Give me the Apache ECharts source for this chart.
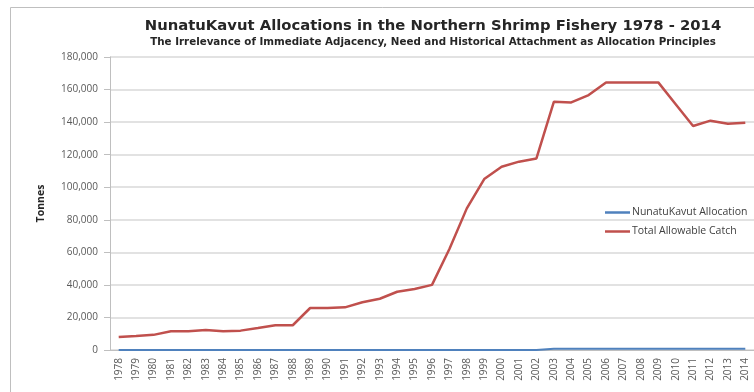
<!DOCTYPE html>
<html><head><meta charset="utf-8">
<script src="https://cdn.jsdelivr.net/npm/echarts@6/dist/echarts.min.js"></script>
<style>html,body{margin:0;padding:0;background:#fff}#c{width:754px;height:392px}</style>
</head><body><div id="c"></div>
<script>
const years = ['1978','1979','1980','1981','1982','1983','1984','1985','1986','1987','1988','1989','1990','1991','1992','1993','1994','1995','1996','1997','1998','1999','2000','2001','2002','2003','2004','2005','2006','2007','2008','2009','2010','2011','2012','2013','2014'];
const nunatukavut = [0,0,0,0,0,0,0,0,0,0,0,0,0,0,0,0,0,0,0,0,0,0,0,0,0,800,800,800,800,800,800,800,800,800,800,800,800];
const tac = [8000,8600,9300,11500,11500,12300,11500,11900,13500,15200,15200,25800,25800,26200,29300,31500,35800,37500,40000,62000,87000,105000,112600,115700,117700,152500,152100,156600,164400,164400,164400,164400,151000,137600,140900,139000,139600];
const yTicks = [0,20000,40000,60000,80000,100000,120000,140000,160000,180000];
const titleText = 'NunatuKavut Allocations in the Northern Shrimp Fishery 1978 - 2014';
const subtitleText = 'The Irrelevance of Immediate Adjacency, Need and Historical Attachment as Allocation Principles';

const chart = echarts.init(document.getElementById('c'), null, {renderer:'canvas'});
const font = '"Open Sans", "Noto Sans", sans-serif';
const tfont = '"DejaVu Sans", sans-serif';
chart.setOption({
  animation:false,
  textStyle:{fontFamily:font},
  graphic:[{type:'rect',shape:{x:10.5,y:7.5,width:800,height:420},style:{fill:null,stroke:'#bfbfbf',lineWidth:1}, z:-1}],
  title:{
    text:titleText, subtext:subtitleText, left:428, textAlign:'center', top:14,
    itemGap:3,
    textStyle:{fontFamily:tfont,fontSize:14.8,fontWeight:'bold',color:'#262626'},
    subtextStyle:{fontFamily:tfont,fontSize:10.3,fontWeight:'bold',color:'#262626'}
  },
  legend:{
    orient:'vertical', left:600, top:202, itemWidth:25, itemHeight:2.5, itemGap:8,
    icon:'rect',
    textStyle:{fontFamily:font,fontSize:10.5,color:'#404040',padding:[0,0,0,-3]},
    data:['NunatuKavut Allocation','Total Allowable Catch']
  },
  grid:{left:110,right:-3,top:57,bottom:42},
  xAxis:{
    type:'category', data:years, boundaryGap:true,
    axisLine:{lineStyle:{color:'#bfbfbf',width:1}},
    axisTick:{show:false},
    axisLabel:{rotate:90,fontSize:10,color:'#595959',margin:8,interval:0,fontFamily:font}
  },
  yAxis:{
    type:'value', min:0, max:180000, interval:20000,
    name:'Tonnes', nameLocation:'middle', nameGap:63, nameRotate:90,
    nameTextStyle:{fontFamily:font,fontSize:10.5,fontWeight:'bold',color:'#262626'},
    axisLine:{show:true,lineStyle:{color:'#bfbfbf'}},
    axisTick:{show:true,length:6,lineStyle:{color:'#bfbfbf'}},
    axisLabel:{fontSize:10,color:'#595959',margin:12,fontFamily:font,
      formatter:v=> yTicks.includes(v) ? v.toLocaleString('en-US') : ''},
    splitLine:{lineStyle:{color:'#d9d9d9',width:1.5}}
  },
  series:[
    {name:'NunatuKavut Allocation',type:'line',data:nunatukavut,symbol:'none',
     lineStyle:{color:'#4f81bd',width:2},itemStyle:{color:'#4f81bd'},z:3},
    {name:'Total Allowable Catch',type:'line',data:tac,symbol:'none',
     lineStyle:{color:'#c0504d',width:2.5},itemStyle:{color:'#c0504d'},z:2}
  ]
});
</script></body></html>
